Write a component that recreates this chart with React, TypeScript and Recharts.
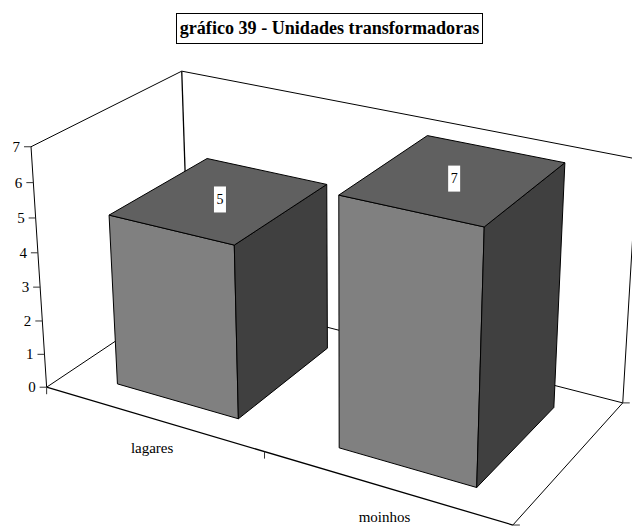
import { BarChart, Bar, XAxis, YAxis, LabelList } from "recharts";

const CATEGORIES = ["lagares", "moinhos"];
const UNIDADES = [5, 7];
const Y_TICKS = [0, 1, 2, 3, 4, 5, 6, 7];
const Y_MAX = 7;

const CHART_W = 632;
const CHART_H = 526;
// axes need a non zero size or recharts skips their ticks
const GUTTER = 1;
const PLOT_W = CHART_W - GUTTER;
const PLOT_H = CHART_H - GUTTER;
const FONT = "'Liberation Serif', 'Times New Roman', serif";

const DATA = CATEGORIES.map((name, i) => ({ name, value: UNIDADES[i] }));

// depth range of the bars inside the floor (0 = front, 1 = back)
const BAR_DEPTH: [number, number] = [0.16, 0.835];
const BAR_SHIFT = 0.002;

// picture positions of the corners of the 3D box: [x, y, z] -> [px, py]
const BOX_CORNERS: [number[], number[]][] = [
  [[0, 0, 0], [47.5, 387]],
  [[0, 1, 0], [30, 147]],
  [[0, 0, 1], [188, 292]],
  [[0, 1, 1], [183, 71]],
  [[1, 0, 0], [513, 525]],
  [[1, 0, 1], [623, 403]],
  [[1, 1, 1], [637, 159]],
];

// least squares camera matrix from the corners above
function solveCamera() {
  const rows: number[][] = [];
  const rhs: number[] = [];
  BOX_CORNERS.forEach(([[x, y, z], [u, v]]) => {
    rows.push([x, y, z, 1, 0, 0, 0, 0, -u * x, -u * y, -u * z]);
    rhs.push(u);
    rows.push([0, 0, 0, 0, x, y, z, 1, -v * x, -v * y, -v * z]);
    rhs.push(v);
  });
  const n = 11;
  const m = Array.from({ length: n }, (_, i) =>
    Array.from({ length: n + 1 }, (_, j) =>
      rows.reduce((s, r, k) => s + r[i] * (j === n ? rhs[k] : r[j]), 0)
    )
  );
  for (let c = 0; c < n; c++) {
    let piv = c;
    for (let r = c + 1; r < n; r++) if (Math.abs(m[r][c]) > Math.abs(m[piv][c])) piv = r;
    [m[c], m[piv]] = [m[piv], m[c]];
    for (let r = 0; r < n; r++) {
      if (r === c) continue;
      const f = m[r][c] / m[c][c];
      for (let k = c; k <= n; k++) m[r][k] -= f * m[c][k];
    }
  }
  return m.map((r, i) => r[n] / r[i]);
}

const P = solveCamera();

const project = (x: number, y: number, z: number) => {
  const w = P[8] * x + P[9] * y + P[10] * z + 1;
  return {
    x: (P[0] * x + P[1] * y + P[2] * z + P[3]) / w,
    y: (P[4] * x + P[5] * y + P[6] * z + P[7]) / w,
  };
};

// pixels from the recharts scales -> box coordinates
const toBoxX = (px: number) => (px - GUTTER) / PLOT_W;
const toBoxY = (py: number) => (PLOT_H - py) / PLOT_H;

const toPoints = (pts: { x: number; y: number }[]) => pts.map((p) => `${p.x},${p.y}`).join(" ");

const Edge = ({ a, b, width = 1 }: { a: number[]; b: number[]; width?: number }) => {
  const p = project(a[0], a[1], a[2]);
  const q = project(b[0], b[1], b[2]);
  return <line x1={p.x} y1={p.y} x2={q.x} y2={q.y} stroke="#000" strokeWidth={width} />;
};

const Box3D = (props: any) => {
  const { x, y, width, height } = props;
  const x0 = toBoxX(x) + BAR_SHIFT;
  const x1 = toBoxX(x + width) + BAR_SHIFT;
  const top = toBoxY(y);
  const base = toBoxY(y + height);
  const [z0, z1] = BAR_DEPTH;
  const front = [project(x0, base, z0), project(x1, base, z0), project(x1, top, z0), project(x0, top, z0)];
  const side = [project(x1, base, z0), project(x1, base, z1), project(x1, top, z1), project(x1, top, z0)];
  const lid = [project(x0, top, z0), project(x1, top, z0), project(x1, top, z1), project(x0, top, z1)];
  return (
    <g stroke="#000" strokeWidth={1} strokeLinejoin="round">
      <polygon points={toPoints(front)} fill="#808080" />
      <polygon points={toPoints(side)} fill="#404040" />
      <polygon points={toPoints(lid)} fill="#606060" />
    </g>
  );
};

const TopLabel = (props: any) => {
  const { x, y, width, value } = props;
  const c = project(toBoxX(x + width / 2) + BAR_SHIFT, toBoxY(y), (BAR_DEPTH[0] + BAR_DEPTH[1]) / 2);
  return (
    <g>
      <rect x={c.x - 6} y={c.y - 13} width={12} height={26} fill="#fff" />
      <text x={c.x} y={c.y + 4.5} textAnchor="middle" fontFamily={FONT} fontSize={14} fill="#000">
        {value}
      </text>
    </g>
  );
};

const YTick = (props: any) => {
  const { y, payload } = props;
  const p = project(0, toBoxY(y), 0);
  return (
    <g>
      <line x1={p.x - 7} y1={p.y} x2={p.x} y2={p.y} stroke="#333" strokeWidth={1} />
      <text x={p.x - 11} y={p.y + 5} textAnchor="end" fontFamily={FONT} fontSize={15} fill="#000">
        {payload.value}
      </text>
    </g>
  );
};

const XTick = (props: any) => {
  const { x, payload } = props;
  const p = project(toBoxX(x), 0, 0);
  return (
    <text x={p.x} y={p.y + 35} textAnchor="middle" fontFamily={FONT} fontSize={15} fill="#000">
      {payload.value}
    </text>
  );
};

const Frame = () => {
  const mid = project(0.5, 0, 0);
  const left = project(0, 0, 0);
  const right = project(1, 0, 0);
  const back = project(1, 0, 1);
  return (
    <g>
      <Edge a={[0, 0, 0]} b={[0, 1, 0]} />
      <Edge a={[0, 1, 0]} b={[0, 1, 1]} />
      <Edge a={[0, 0, 0]} b={[0, 0, 1]} />
      <Edge a={[0, 0, 1]} b={[0, 1, 1]} width={1.3} />
      <Edge a={[0, 1, 1]} b={[1, 1, 1]} />
      <Edge a={[0, 0, 1]} b={[1, 0, 1]} />
      <Edge a={[1, 0, 1]} b={[1, 1, 1]} />
      <Edge a={[0, 0, 0]} b={[1, 0, 0]} width={1.3} />
      <Edge a={[1, 0, 0]} b={[1, 0, 1]} />
      <line x1={left.x} y1={left.y} x2={left.x} y2={left.y + 7} stroke="#333" />
      <line x1={mid.x} y1={mid.y} x2={mid.x} y2={mid.y + 7} stroke="#333" />
      <line x1={right.x} y1={right.y} x2={right.x + 7} y2={right.y} stroke="#333" />
      <line x1={back.x} y1={back.y} x2={back.x + 7} y2={back.y} stroke="#333" />
    </g>
  );
};

export default function App() {
  return (
    <div style={{ position: "absolute", left: 0, top: 0, width: CHART_W, height: CHART_H, overflow: "hidden" }}>
      <BarChart
        width={CHART_W}
        height={CHART_H}
        data={DATA}
        margin={{ top: 0, right: 0, bottom: 0, left: 0 }}
        barCategoryGap="22%"
      >
        <Frame />
        <rect x={176.5} y={13.5} width={306} height={30} fill="#fff" stroke="#000" strokeWidth={1} />
        <text x={329.5} y={34} textAnchor="middle" fontFamily={FONT} fontSize={18.1} fontWeight="bold" fill="#000">
          gráfico 39 - Unidades transformadoras
        </text>
        <XAxis dataKey="name" height={GUTTER} axisLine={false} tickLine={false} interval={0} tick={<XTick />} />
        <YAxis width={GUTTER} domain={[0, Y_MAX]} ticks={Y_TICKS} interval={0} axisLine={false} tickLine={false} tick={<YTick />} />
        <Bar dataKey="value" isAnimationActive={false} shape={<Box3D />}>
          <LabelList dataKey="value" content={<TopLabel />} />
        </Bar>
      </BarChart>
    </div>
  );
}
